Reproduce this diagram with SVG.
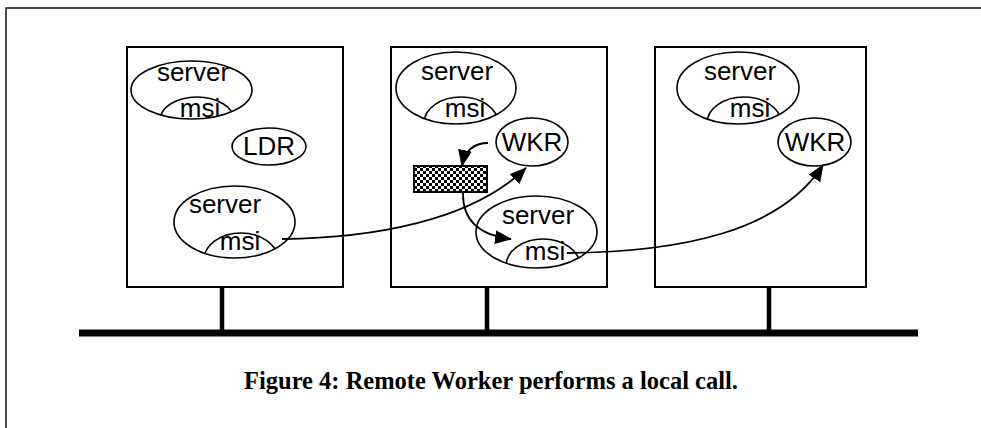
<svg xmlns="http://www.w3.org/2000/svg" width="981" height="428" viewBox="0 0 981 428">
  <style>
    .frame { fill: none; stroke: #222; stroke-width: 1.6; }
    .box { fill: #fff; stroke: #000; stroke-width: 2; }
    .ell { fill: none; stroke: #000; stroke-width: 1.6; }
    .lbl { font-family: "Liberation Sans", Arial, sans-serif; font-size: 26px; fill: #000; text-anchor: middle; }
    .wire { stroke: #000; stroke-width: 4.5; fill: none; }
    .bus { stroke: #000; stroke-width: 7; }
    .conn { fill: none; stroke: #000; stroke-width: 1.8; }
    .caption { font-family: "Liberation Serif", "Times New Roman", serif; font-weight: bold; font-size: 24.5px; text-anchor: middle; fill: #000; }
  </style>
  <defs>
    <marker id="arrow" markerUnits="userSpaceOnUse" markerWidth="18" markerHeight="14" refX="16" refY="7" orient="auto">
      <path d="M0,0 L17,7 L0,14 Z" fill="#000"/>
    </marker>
    <pattern id="checker" width="6" height="6" patternUnits="userSpaceOnUse">
      <rect width="6" height="6" fill="#fff"/>
      <rect width="3" height="3" fill="#000"/>
      <rect x="3" y="3" width="3" height="3" fill="#000"/>
    </pattern>
    <clipPath id="c1a"><ellipse cx="191.5" cy="90" rx="60.5" ry="29"/></clipPath>
    <clipPath id="c1b"><ellipse cx="234.5" cy="222" rx="60.5" ry="36"/></clipPath>
    <clipPath id="c2a"><ellipse cx="456" cy="88" rx="60" ry="36"/></clipPath>
    <clipPath id="c2b"><ellipse cx="536.5" cy="232" rx="60.5" ry="36"/></clipPath>
    <clipPath id="c3a"><ellipse cx="738" cy="88" rx="61" ry="36"/></clipPath>
  </defs>

  <rect id="frame" class="frame" x="6" y="8" width="1000" height="440"/>

  <!-- network bus with host taps -->
  <g id="network">
    <line class="wire" x1="222" y1="287" x2="222" y2="333"/>
    <line class="wire" x1="487" y1="287" x2="487" y2="333"/>
    <line class="wire" x1="769" y1="287" x2="769" y2="333"/>
    <line class="bus" x1="79" y1="333" x2="918" y2="333"/>
  </g>

  <!-- host 1 -->
  <g id="host1">
    <rect class="box" x="127" y="47" width="216" height="240"/>
    <g id="h1-server1">
      <ellipse class="ell" cx="191.5" cy="90" rx="60.5" ry="29"/>
      <ellipse class="ell" cx="197" cy="120" rx="37" ry="23" clip-path="url(#c1a)"/>
      <text class="lbl" x="193" y="81">server</text>
      <text class="lbl" x="200" y="117">msi</text>
    </g>
    <g id="h1-ldr">
      <ellipse class="ell" cx="269" cy="146.5" rx="37" ry="18.5"/>
      <text class="lbl" x="269" y="155">LDR</text>
    </g>
    <g id="h1-server2">
      <ellipse class="ell" cx="234.5" cy="222" rx="60.5" ry="36"/>
      <ellipse class="ell" cx="241" cy="260" rx="37" ry="27" clip-path="url(#c1b)"/>
      <text class="lbl" x="225" y="213">server</text>
      <text class="lbl" x="240" y="250">msi</text>
    </g>
  </g>

  <!-- host 2 -->
  <g id="host2">
    <rect class="box" x="391" y="47" width="216" height="240"/>
    <g id="h2-server1">
      <ellipse class="ell" cx="456" cy="88" rx="60" ry="36"/>
      <ellipse class="ell" cx="461" cy="123" rx="37" ry="26" clip-path="url(#c2a)"/>
      <text class="lbl" x="457" y="80">server</text>
      <text class="lbl" x="465" y="117">msi</text>
    </g>
    <g id="h2-wkr">
      <ellipse class="ell" cx="532" cy="142" rx="36" ry="24"/>
      <text class="lbl" x="532" y="151">WKR</text>
    </g>
    <g id="h2-queue">
      <rect x="414" y="166" width="73" height="26" fill="url(#checker)" stroke="#000" stroke-width="2"/>
    </g>
    <g id="h2-server2">
      <ellipse class="ell" cx="536.5" cy="232" rx="60.5" ry="36"/>
      <ellipse class="ell" cx="543" cy="266" rx="37" ry="27" clip-path="url(#c2b)"/>
      <text class="lbl" x="538" y="224">server</text>
      <text class="lbl" x="545" y="260">msi</text>
    </g>
  </g>

  <!-- host 3 -->
  <g id="host3">
    <rect class="box" x="655" y="47" width="211" height="240"/>
    <g id="h3-server1">
      <ellipse class="ell" cx="738" cy="88" rx="61" ry="36"/>
      <ellipse class="ell" cx="744" cy="123" rx="37" ry="26" clip-path="url(#c3a)"/>
      <text class="lbl" x="740" y="80">server</text>
      <text class="lbl" x="750" y="117">msi</text>
    </g>
    <g id="h3-wkr">
      <ellipse class="ell" cx="814.5" cy="142" rx="36.5" ry="24"/>
      <text class="lbl" x="815" y="151">WKR</text>
    </g>
  </g>

  <!-- calls and messages -->
  <g id="connectors">
    <path class="conn" d="M282,239 C370,238 470,222 526,168" marker-end="url(#arrow)"/>
    <path class="conn" d="M488,143 C475,143 465,150 462,166" marker-end="url(#arrow)"/>
    <path class="conn" d="M463,192 C462,225 485,236 511,239" marker-end="url(#arrow)"/>
    <path class="conn" d="M567,253 C680,252 780,232 823,165" marker-end="url(#arrow)"/>
  </g>

  <text id="caption" class="caption" x="491" y="389">Figure 4: Remote Worker performs a local call.</text>
</svg>
